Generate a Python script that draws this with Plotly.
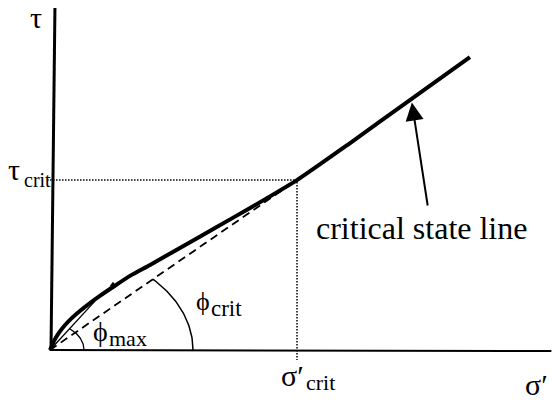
import numpy as np
import plotly.graph_objects as go

# Schematic stress values (σ'crit normalised to 100)
SIGMA_CRIT = 100.0
TAU_CRIT = 68.8

# Strength envelope: curved peak part near the origin joining the critical state line
envelope_sigma = [0, 1.6, 3.6, 6.1, 8.9, 12.1, 16.2, 20.2, 25.5, 32.4, 40.5,
                  52.6, 66.8, 81.0, 100.0, 121.5, 145.7, 170.0]
envelope_tau = [0, 3.6, 6.9, 10.1, 13.0, 15.8, 19.0, 21.9, 25.5, 30.0, 34.4,
                41.3, 49.4, 57.5, 68.8, 83.8, 101.2, 118.6]

# Peak point on the envelope and the secant line defining φmax
peak_sigma, peak_tau = 25.5, 26.4
phimax_sigma = [0, 18.2]
phimax_tau = [0, 19.8]

# Axis extents
sigma_axis_end = 203.0
tau_axis_end = 138.5

# Arrow on the critical state line label
arrow_tip = (146.5, 100.2)
arrow_tail = (153.0, 57.9)

K = 2.47            # pixels per stress unit
OX, OY = 50, 350    # origin in pixels
W, H = 552, 403

FONT = "Liberation Serif, Times New Roman, DejaVu Serif, serif"
black = "black"

fig = go.Figure()

# axes
fig.add_trace(go.Scatter(x=[0.4, 2.0], y=[-0.4, tau_axis_end], mode="lines",
                         line=dict(color=black, width=3)))
fig.add_trace(go.Scatter(x=[0, sigma_axis_end], y=[0, -0.4], mode="lines",
                         line=dict(color=black, width=2)))

# dotted construction lines at the critical state point
fig.add_trace(go.Scatter(x=[-1.2, SIGMA_CRIT, SIGMA_CRIT], y=[TAU_CRIT, TAU_CRIT, -4.0],
                         mode="lines", line=dict(color=black, width=1.5, dash="1.5px,1.5px")))

# dashed secant through the critical state point (φcrit)
fig.add_trace(go.Scatter(x=[0, SIGMA_CRIT], y=[0, TAU_CRIT], mode="lines",
                         line=dict(color=black, width=1.8, dash="8px,5px")))

# thin φmax secant
fig.add_trace(go.Scatter(x=phimax_sigma, y=phimax_tau, mode="lines",
                         line=dict(color=black, width=1.3)))

# envelope / critical state line
fig.add_trace(go.Scatter(x=envelope_sigma, y=envelope_tau, mode="lines",
                         line=dict(color=black, width=4, shape="spline", smoothing=0.6)))

# peak mark
fig.add_trace(go.Scatter(x=[peak_sigma], y=[peak_tau], mode="markers",
                         marker=dict(symbol="triangle-up", size=6, color=black)))


# angle arcs (drawn as ellipse segments ending on the secant lines)
def arc(a, b, slope):
    t_end = np.arctan(slope * a / b)
    t = np.linspace(0, t_end, 50)
    return a * np.cos(t), b * np.sin(t)


ax1, ay1 = arc(143 / K, 102 / K, TAU_CRIT / SIGMA_CRIT)
fig.add_trace(go.Scatter(x=ax1, y=ay1, mode="lines", line=dict(color=black, width=1.5)))
ax2, ay2 = arc(34 / K, 26 / K, phimax_tau[1] / phimax_sigma[1])
fig.add_trace(go.Scatter(x=ax2, y=ay2, mode="lines", line=dict(color=black, width=1.3)))

# arrow pointing at the critical state line
fig.add_annotation(x=arrow_tip[0], y=arrow_tip[1], ax=arrow_tail[0], ay=arrow_tail[1],
                   axref="x", ayref="y", xref="x", yref="y", text="", showarrow=True,
                   arrowhead=2, arrowsize=1.8, arrowwidth=2, arrowcolor=black)


def label(px_left, py_base, text, size):
    """Place text with its left edge and baseline at the given pixel position."""
    fig.add_annotation(x=px_left / W, y=1 - (py_base + 0.216 * size) / H,
                       xref="paper", yref="paper", text=text, showarrow=False,
                       xanchor="left", yanchor="bottom", borderpad=0,
                       font=dict(family=FONT, size=size, color=black))


crit_px = OX + SIGMA_CRIT * K
crit_py = OY - TAU_CRIT * K

label(29, 29, "τ", 30)
label(7, crit_py + 0.5, "τ", 30)
label(23, crit_py + 8, "crit", 20)
label(crit_px - 17, 387, "σ′", 30)
label(crit_px + 8, 391, "crit", 22)
label(524, 396, "σ′", 30)
label(315, 240, "critical state line", 32)
label(195, 311, "ϕ", 26)
label(210, 317, "crit", 23)
label(92, 342, "ϕ", 28)
label(108, 347, "max", 22)

fig.update_layout(
    width=W, height=H, autosize=False,
    margin=dict(l=0, r=0, t=0, b=0),
    paper_bgcolor="white", plot_bgcolor="white",
    showlegend=False,
    xaxis=dict(range=[-OX / K, (W - OX) / K], visible=False, fixedrange=True),
    yaxis=dict(range=[-(H - OY) / K, OY / K], visible=False, fixedrange=True),
)

fig.write_html("out.html")
